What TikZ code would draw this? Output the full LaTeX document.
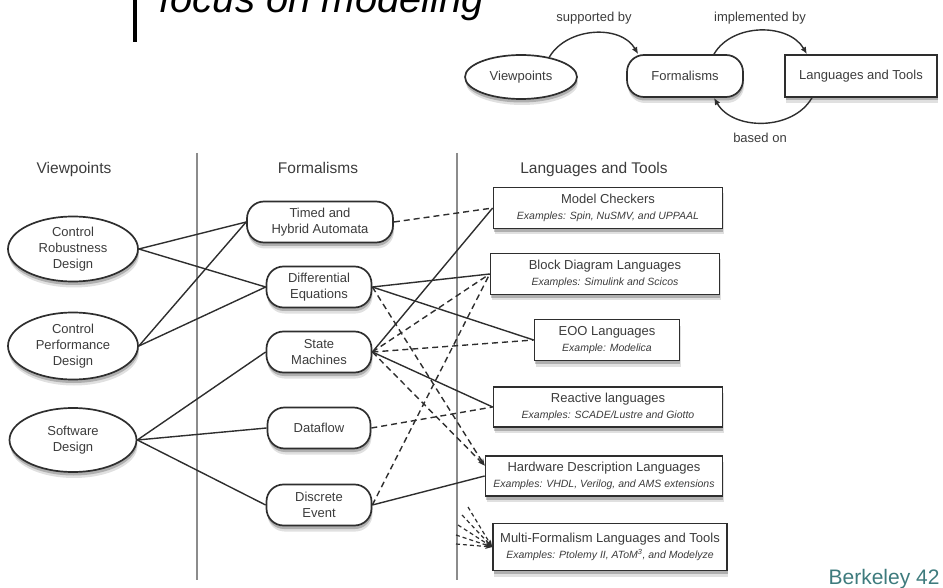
\documentclass[tikz,border=0pt]{standalone}
\usepackage{fontspec}
\setmainfont{Liberation Sans}
\usetikzlibrary{arrows.meta,shapes.geometric,shadows}
\definecolor{InkGray}{HTML}{3C3C3C}
\definecolor{RuleGray}{HTML}{8C8C8C}
\definecolor{LineGray}{HTML}{2E2E2E}
\definecolor{FootTeal}{HTML}{3E7B7D}
\newcommand\exfont{\fontsize{10.5}{13}\selectfont\itshape}

\begin{document}
\begin{tikzpicture}[
  x=1pt, y=-1pt,
  font=\fontsize{13}{16}\selectfont,
  text=InkGray,
  shade/.style={drop shadow={shadow xshift=1pt,shadow yshift=-6pt,opacity=.12,fill=black},
    drop shadow={shadow xshift=.5pt,shadow yshift=-3.5pt,opacity=.22,fill=black}},
  view/.style={ellipse,draw=LineGray,line width=1.7pt,fill=white,shade,
    align=center,inner sep=0pt,minimum width=#1,minimum height=65pt},
  form/.style={rectangle,rounded corners=17pt,draw=LineGray,line width=1.7pt,fill=white,shade,
    align=center,inner sep=0pt,minimum width=#1,minimum height=41pt},
  lang/.style={rectangle,draw=LineGray,line width=1.7pt,fill=white,shade,
    align=center,inner sep=0pt,minimum width=#1,minimum height=41pt},
  head/.style={anchor=base,font=\fontsize{15.5}{18}\selectfont,text=InkGray},
  sep/.style={draw=RuleGray,line width=1.2pt},
  link/.style={draw=LineGray,line width=1.4pt},
  dlink/.style={link,dash pattern=on 6pt off 4pt},
  tip/.style={-{Stealth[length=7pt,width=5pt]}},
  flow/.style={link,-{Latex[length=7pt,width=6pt]}}
]
  \clip (0,0) rectangle (943,588);

  % title and footer
  \draw[line width=4pt,black] (135,0) -- (135,42);
  \node[anchor=base west,text=black,font=\fontsize{40}{48}\selectfont\itshape] (title) at (156,13) {focus on modeling};
  \node[anchor=base east,text=FootTeal,font=\fontsize{21}{25}\selectfont] (foot) at (943,584) {Berkeley 42};

  % overview
  \node[ellipse,draw=LineGray,line width=1.7pt,fill=white,shade,inner sep=0pt,
    minimum width=112pt,minimum height=44pt] (tv) at (521,77) {Viewpoints};
  \node[form=116pt,minimum height=42pt] (tf) at (685,76) {Formalisms};
  \node[lang=152pt,minimum height=42pt] (tl) at (861,76) {Languages and Tools};

  \draw[flow] (tv.35) to[out=60,in=120] (tf.155);
  \draw[flow] (tf.37) to[out=60,in=120] (tl.158);
  \draw[flow] (tl.204) to[out=-120,in=-60] (tf.-37);
  \node (lsup) at (594,18) {supported by};
  \node (limp) at (760,18) {implemented by};
  \node (lbas) at (760,138) {based on};

  % columns
  \node[head] (hview) at (74,174) {Viewpoints};
  \node[head] (hform) at (318,174) {Formalisms};
  \node[head] (hlang) at (594,174) {Languages and Tools};
  \draw[sep] (197,153) -- (197,580);
  \draw[sep] (457,153) -- (457,580);

  % viewpoints
  \node[view=130pt] (crd) at (73,249) {Control\\Robustness\\Design};
  \node[view=130pt,minimum height=67pt] (cpd) at (73,346) {Control\\Performance\\Design};
  \node[view=127pt,minimum height=64pt] (swd) at (73,440) {Software\\Design};

  % formalisms
  \node[form=146pt] (timed) at (320,222) {Timed and\\Hybrid Automata};
  \node[form=105pt] (diffeq) at (319,287) {Differential\\Equations};
  \node[form=105pt] (sm) at (319,352) {State\\Machines};
  \node[form=103pt] (dataflow) at (319,428) {Dataflow};
  \node[form=105pt] (de) at (319,505) {Discrete\\Event};

  % languages and tools
  \node[lang=229pt] (mc) at (608,208) {Model Checkers\\{\exfont Examples: Spin, NuSMV, and UPPAAL}};
  \node[lang=229pt] (bd) at (605,274) {Block Diagram Languages\\{\exfont Examples: Simulink and Scicos}};
  \node[lang=145pt] (eoo) at (607,340) {EOO Languages\\{\exfont Example: Modelica}};
  \node[lang=229pt,minimum height=40pt] (react) at (608,407) {Reactive languages\\{\exfont Examples: SCADE/Lustre and Giotto}};
  \node[lang=237pt,minimum height=40pt] (hdl) at (604,476) {Hardware Description Languages\\{\exfont Examples: VHDL, Verilog, and AMS extensions}};
  \node[lang=234pt,minimum height=47pt] (mf) at (610,547) {Multi-Formalism Languages and Tools\\{\exfont Examples: Ptolemy II, AToM\textsuperscript{3}, and Modelyze}};

  % viewpoint to formalism
  \draw[link] (crd.east) -- (timed.west);
  \draw[link] (crd.east) -- (diffeq.west);
  \draw[link] (cpd.east) -- (timed.west);
  \draw[link] (cpd.east) -- (diffeq.west);
  \draw[link] (swd.east) -- (sm.west);
  \draw[link] (swd.east) -- (dataflow.west);
  \draw[link] (swd.east) -- (de.west);

  % formalism to languages
  \draw[link] (diffeq.east) -- (bd.west);
  \draw[link] (diffeq.east) -- (eoo.west);
  \draw[link] (sm.east) -- (mc.west);
  \draw[link] (sm.east) -- (react.west);
  \draw[link] (de.east) -- (hdl.west);
  \draw[dlink] (timed.east) -- (mc.west);
  \draw[dlink] (sm.east) -- (bd.west);
  \draw[dlink] (sm.east) -- (eoo.west);
  \draw[dlink] (dataflow.east) -- (react.west);
  \draw[dlink] (de.east) -- (bd.west);
  \draw[dlink,tip] (diffeq.east) -- (hdl.175);
  \draw[dlink,tip] (sm.east) -- (hdl.175);

  % stubs into multi-formalism
  \coordinate (stubA) at (468,507);
  \coordinate (stubB) at (462,515);
  \coordinate (stubC) at (458,525);
  \coordinate (stubD) at (456,535);
  \coordinate (stubE) at (456,544);
  \foreach \s in {stubA,stubB,stubC,stubD,stubE}
    \draw[dlink,line width=1.2pt,dash pattern=on 4pt off 3pt,tip] (\s) -- (mf.west);
\end{tikzpicture}
\end{document}
